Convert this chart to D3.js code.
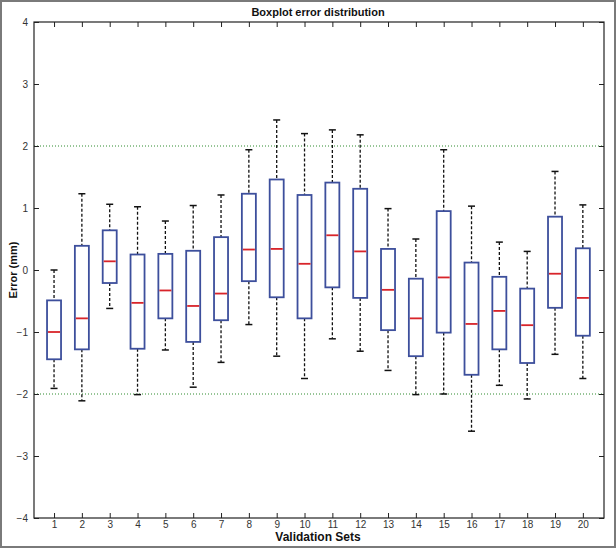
<!DOCTYPE html>
<html>
<head>
<meta charset="utf-8">
<script src="https://cdn.jsdelivr.net/npm/d3@7"></script>
<style>
  html, body { margin: 0; padding: 0; background: #fff; }
  svg { display: block; }
</style>
</head>
<body>
<div id="chart"></div>
<script>
// Boxplot of error per validation set
const sets = d3.range(1, 21);
const whiskerHigh = [0.00, 1.23, 1.06, 1.02, 0.79, 1.04, 1.21, 1.94, 2.42, 2.20,
                     2.26, 2.18, 0.99, 0.50, 1.94, 1.03, 0.45, 0.30, 1.59, 1.05];
const q3 =          [-0.49, 0.39, 0.64, 0.25, 0.26, 0.31, 0.53, 1.23, 1.46, 1.21,
                     1.41, 1.31, 0.34, -0.14, 0.95, 0.12, -0.11, -0.30, 0.86, 0.35];
const medians =     [-1.00, -0.78, 0.14, -0.53, -0.33, -0.58, -0.38, 0.33, 0.34, 0.10,
                     0.56, 0.30, -0.32, -0.78, -0.12, -0.87, -0.66, -0.89, -0.06, -0.45];
const q1 =          [-1.44, -1.28, -0.21, -1.27, -0.78, -1.16, -0.81, -0.18, -0.44, -0.78,
                     -0.28, -0.45, -0.97, -1.39, -1.01, -1.69, -1.28, -1.50, -0.61, -1.06];
const whiskerLow =  [-1.91, -2.11, -0.62, -2.01, -1.29, -1.89, -1.49, -0.88, -1.39, -1.75,
                     -1.11, -1.31, -1.62, -2.01, -2.00, -2.60, -1.86, -2.08, -1.36, -1.75];
const yTicks = [-4, -3, -2, -1, 0, 1, 2, 3, 4];
const limitLines = [-2, 2];

const W = 616, H = 548;
const plot = { left: 34, right: 604, top: 22, bottom: 518 };
const font = "'Liberation Sans Narrow', 'Arial Narrow', 'Liberation Sans', Arial, sans-serif";

const svg = d3.select('#chart').append('svg')
  .attr('width', W).attr('height', H)
  .attr('viewBox', `0 0 ${W} ${H}`);

// outer frame
svg.append('rect')
  .attr('x', 1).attr('y', 1).attr('width', W - 2).attr('height', H - 2)
  .attr('fill', '#fff').attr('stroke', '#7a7a7a').attr('stroke-width', 2);

const x = d3.scaleLinear().domain([0.28, 20.76]).range([plot.left, plot.right]);
const y = d3.scaleLinear().domain([-4, 4]).range([plot.bottom, plot.top]);

// dotted green limit lines
svg.selectAll('.limit').data(limitLines).enter().append('line')
  .attr('x1', plot.left).attr('x2', plot.right)
  .attr('y1', d => y(d)).attr('y2', d => y(d))
  .attr('stroke', '#2e8b2e').attr('stroke-width', 1)
  .attr('stroke-dasharray', '1,2');

const boxes = sets.map((s, i) => ({
  set: s, hi: whiskerHigh[i], q3: q3[i], med: medians[i], q1: q1[i], lo: whiskerLow[i]
}));

const boxW = 14, capW = 7;
const g = svg.append('g');
const bx = g.selectAll('.box').data(boxes).enter().append('g').attr('class', 'box');

// whiskers
bx.append('line')
  .attr('x1', d => x(d.set)).attr('x2', d => x(d.set))
  .attr('y1', d => y(d.hi)).attr('y2', d => y(d.q3))
  .attr('stroke', '#111').attr('stroke-width', 1.3).attr('stroke-dasharray', '3,2');
bx.append('line')
  .attr('x1', d => x(d.set)).attr('x2', d => x(d.set))
  .attr('y1', d => y(d.q1)).attr('y2', d => y(d.lo))
  .attr('stroke', '#111').attr('stroke-width', 1.3).attr('stroke-dasharray', '3,2');
// caps
['hi', 'lo'].forEach(k => {
  bx.append('line')
    .attr('x1', d => x(d.set) - capW / 2).attr('x2', d => x(d.set) + capW / 2)
    .attr('y1', d => y(d[k])).attr('y2', d => y(d[k]))
    .attr('stroke', '#111').attr('stroke-width', 1.5);
});
// box
bx.append('rect')
  .attr('x', d => x(d.set) - boxW / 2).attr('width', boxW)
  .attr('y', d => y(d.q3)).attr('height', d => y(d.q1) - y(d.q3))
  .attr('fill', '#fff').attr('stroke', '#3d4f9c').attr('stroke-width', 1.8);
// median
bx.append('line')
  .attr('x1', d => x(d.set) - boxW / 2 + 1).attr('x2', d => x(d.set) + boxW / 2 - 1)
  .attr('y1', d => y(d.med)).attr('y2', d => y(d.med))
  .attr('stroke', '#d8242a').attr('stroke-width', 1.8);

// axes (MATLAB style: box with inward ticks on all sides)
const tickLen = 5;
const axStyle = sel => {
  sel.select('.domain').remove();
  sel.selectAll('.tick line').attr('stroke', '#222');
  sel.selectAll('.tick text').attr('fill', '#333')
    .style('font-family', font).style('font-size', '10px');
};
svg.append('g').attr('transform', `translate(0,${plot.bottom})`)
  .call(d3.axisBottom(x).tickValues(sets).tickFormat(d3.format('d'))
    .tickSizeInner(-tickLen).tickPadding(3))
  .call(axStyle);
svg.append('g').attr('transform', `translate(0,${plot.top})`)
  .call(d3.axisTop(x).tickValues(sets).tickSizeInner(-tickLen).tickFormat(''))
  .call(axStyle);
svg.append('g').attr('transform', `translate(${plot.left},0)`)
  .call(d3.axisLeft(y).tickValues(yTicks).tickFormat(d3.format('d'))
    .tickSizeInner(-tickLen).tickPadding(6))
  .call(axStyle);
svg.append('g').attr('transform', `translate(${plot.right},0)`)
  .call(d3.axisRight(y).tickValues(yTicks).tickSizeInner(-tickLen).tickFormat(''))
  .call(axStyle);

svg.append('rect')
  .attr('x', plot.left).attr('y', plot.top)
  .attr('width', plot.right - plot.left).attr('height', plot.bottom - plot.top)
  .attr('fill', 'none').attr('stroke', '#222').attr('stroke-width', 1.2);

// labels
svg.append('text')
  .attr('x', 318).attr('y', 16).attr('text-anchor', 'middle')
  .style('font-family', font).style('font-size', '11px').style('font-weight', 'bold')
  .attr('fill', '#111').text('Boxplot error distribution');
svg.append('text')
  .attr('x', 318).attr('y', 541).attr('text-anchor', 'middle')
  .style('font-family', font).style('font-size', '12px').style('font-weight', 'bold')
  .attr('fill', '#111').text('Validation Sets');
svg.append('text')
  .attr('transform', `translate(17,${(plot.top + plot.bottom) / 2}) rotate(-90)`)
  .attr('text-anchor', 'middle')
  .style('font-family', font).style('font-size', '11px').style('font-weight', 'bold')
  .attr('fill', '#111').text('Error (mm)');
</script>
</body>
</html>
